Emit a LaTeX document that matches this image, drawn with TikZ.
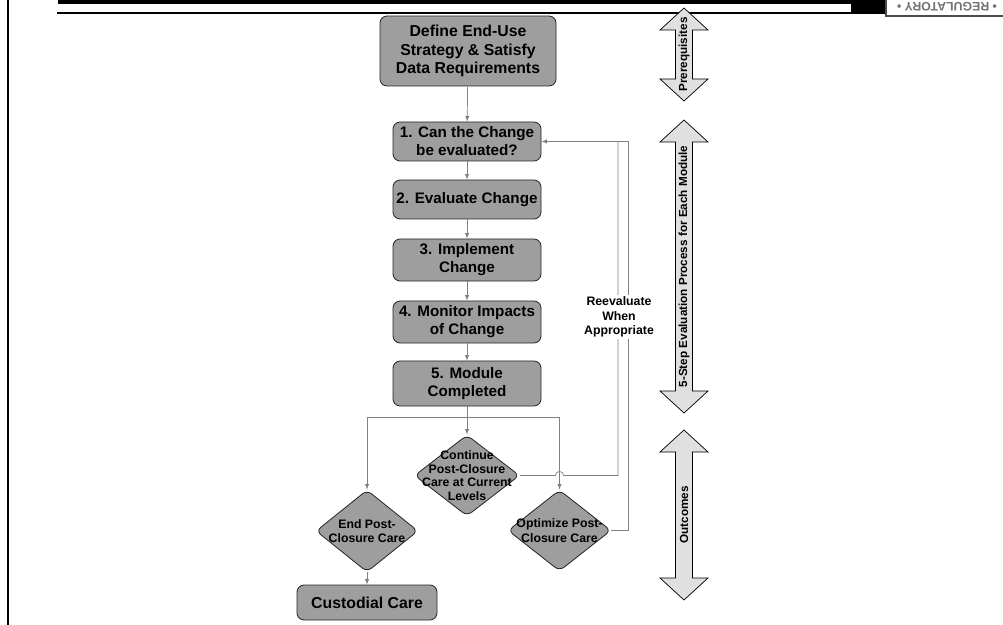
\documentclass[tikz,border=0pt]{standalone}
\usepackage{fontspec}
\setmainfont{Liberation Sans}
\usetikzlibrary{shapes.geometric}
\begin{document}
\begin{tikzpicture}[x = 0.03cm, y = -0.03cm,
	stage/.style = {draw = black!85, fill = black!38, rounded corners = 6pt, line width = 0.7pt, align = center, inner sep = 1pt, font = \fontsize{13}{15.3}\selectfont\bfseries},
	outcome/.style = {diamond, draw = black!85, fill = black!38, rounded corners = 5pt, line width = 0.7pt, inner sep = 0pt},
	outtext/.style = {align = center, inner sep = 0pt, font = \fontsize{10.5}{11.5}\selectfont\bfseries},
	conn/.style = {black!50, line width = 0.6pt},
	sidearr/.style = {draw = black, fill = black!12, line width = 0.6pt},
	sidetext/.style = {rotate = 90, inner sep = 0pt, font = \fontsize{10}{12}\selectfont\bfseries}]
	\useasboundingbox (0,0) rectangle (1003,625);
	\fill (58,0) rectangle (935,4.5);
	\fill (851,0) rectangle (886,13);
	\draw [line width = 1.5pt] (57,13) -- (1003,13);
	\draw [line width = 1.5pt] (8,0) -- (8,625);
	\draw [fill = white, draw = black!70, line width = 1.2pt] (886,-5) rectangle (1010,16);
	\node [rotate = 180, inner sep = 0pt, text = black!55, font = \fontsize{10.5}{11}\selectfont\bfseries] (logo) at (947,6.5) {• REGULATORY •};

	\node [stage, minimum width = 5.28cm, minimum height = 2.1cm, font = \fontsize{13.5}{15.7}\selectfont\bfseries] (define) at (468,51) {Define End-Use\\Strategy \& Satisfy\\Data Requirements};
	\foreach \n/\y/\h/\t in {1/141.5/1.17/{1. Can the Change\\be evaluated?}, 2/199.5/1.17/{2. Evaluate Change}, 3/260/1.26/{3. Implement\\Change}, 4/322/1.26/{4. Monitor Impacts\\of Change}, 5/383.5/1.35/{5. Module\\Completed}}{
	\node [stage, minimum width = 4.44cm, minimum height = \h cm] (s\n) at (467,\y) {\t};
	}
	\foreach \a/\b in {define/s1, s1/s2, s2/s3, s3/s4, s4/s5}{
	\draw [conn, -latex] (\a) -- (\b);
	}

	\node [outcome, minimum width = 3.15cm, minimum height = 2.43cm] (cont) at (467,475.5) {};
	\node [outtext] (conttext) at (cont) {Continue\\Post-Closure\\Care at Current\\Levels};
	\node [outcome, minimum width = 3.06cm, minimum height = 2.46cm] (end) at (367,531) {};
	\node [outtext, font = \fontsize{10.5}{12.5}\selectfont\bfseries] (endtext) at (end) {End Post-\\Closure Care};
	\node [outcome, minimum width = 3.09cm, minimum height = 2.43cm] (opt) at (559.5,530.5) {};
	\node [outtext, font = \fontsize{10.5}{12.5}\selectfont\bfseries] (opttext) at (opt) {Optimize Post-\\Closure Care};
	\node [stage, minimum width = 4.2cm, minimum height = 1.05cm, font = \fontsize{13.5}{15}\selectfont\bfseries] (cust) at (367,602.5) {Custodial Care};

	\coordinate (split) at (467,417);
	\coordinate (hop) at (cont.east -| opt.north);
	\draw [conn] (s5) -- (split);
	\draw [conn] (end.north |- split) -- (opt.north |- split);
	\draw [conn, -latex] (split) -- (cont);
	\draw [conn, -latex] (end.north |- split) -- (end);
	\draw [conn, -latex] (opt.north |- split) -- (opt);
	\draw [conn, -latex] (end) -- (cust);
	\draw [conn] (cont.east) -- ([xshift = -3.5pt] hop) arc [start angle = 180, end angle = 0, radius = 3.5pt] -- (618,475.5) -- (618,141.5);
	\draw [conn, -latex] (opt.east) -| (628,141.5) -- (s1.east);
	\node [fill = white, inner sep = 2pt, align = center, font = \fontsize{10.5}{12.3}\selectfont\bfseries] (reeval) at (619,317) {Reevaluate\\When\\Appropriate};

	\foreach \t/\b/\l/\n in {8/101/Prerequisites/pre, 120/413/5-Step Evaluation Process for Each Module/steps, 430/600/Outcomes/outc}{
	\draw [sidearr] (684,\t) -- (708,\t+22) -- (692.5,\t+22) -- (692.5,\b-22) -- (708,\b-22) -- (684,\b) -- (660,\b-22) -- (675.5,\b-22) -- (675.5,\t+22) -- (660,\t+22) -- cycle;
	\node [sidetext] (\n) at (684,{(\t+\b)/2}) {\l};
	}
\end{tikzpicture}
\end{document}
